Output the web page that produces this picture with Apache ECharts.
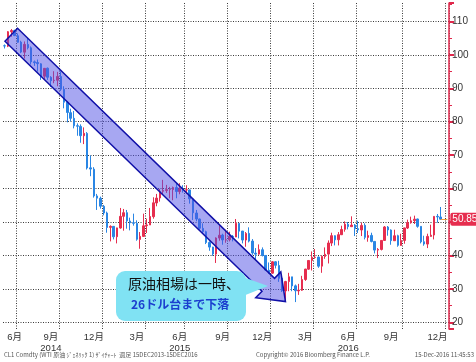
<!DOCTYPE html>
<html><head><meta charset="utf-8">
<script src="https://cdn.jsdelivr.net/npm/echarts@6/dist/echarts.min.js"></script>
<style>html,body{margin:0;padding:0;background:#fff}#c{width:476px;height:362px}</style>
</head><body><div id="c"></div>
<script>
// weekly categories (Monday of each week)
const weeks = [
'2014-06-02','2014-06-09','2014-06-16','2014-06-23','2014-06-30','2014-07-07','2014-07-14','2014-07-21','2014-07-28','2014-08-04',
'2014-08-11','2014-08-18','2014-08-25','2014-09-01','2014-09-08','2014-09-15','2014-09-22','2014-09-29','2014-10-06','2014-10-13',
'2014-10-20','2014-10-27','2014-11-03','2014-11-10','2014-11-17','2014-11-24','2014-12-01','2014-12-08','2014-12-15','2014-12-22',
'2014-12-29','2015-01-05','2015-01-12','2015-01-19','2015-01-26','2015-02-02','2015-02-09','2015-02-16','2015-02-23','2015-03-02',
'2015-03-09','2015-03-16','2015-03-23','2015-03-30','2015-04-06','2015-04-13','2015-04-20','2015-04-27','2015-05-04','2015-05-11',
'2015-05-18','2015-05-25','2015-06-01','2015-06-08','2015-06-15','2015-06-22','2015-06-29','2015-07-06','2015-07-13','2015-07-20',
'2015-07-27','2015-08-03','2015-08-10','2015-08-17','2015-08-24','2015-08-31','2015-09-07','2015-09-14','2015-09-21','2015-09-28',
'2015-10-05','2015-10-12','2015-10-19','2015-10-26','2015-11-02','2015-11-09','2015-11-16','2015-11-23','2015-11-30','2015-12-07',
'2015-12-14','2015-12-21','2015-12-28','2016-01-04','2016-01-11','2016-01-18','2016-01-25','2016-02-01','2016-02-08','2016-02-15',
'2016-02-22','2016-02-29','2016-03-07','2016-03-14','2016-03-21','2016-03-28','2016-04-04','2016-04-11','2016-04-18','2016-04-25',
'2016-05-02','2016-05-09','2016-05-16','2016-05-23','2016-05-30','2016-06-06','2016-06-13','2016-06-20','2016-06-27','2016-07-04',
'2016-07-11','2016-07-18','2016-07-25','2016-08-01','2016-08-08','2016-08-15','2016-08-22','2016-08-29','2016-09-05','2016-09-12',
'2016-09-19','2016-09-26','2016-10-03','2016-10-10','2016-10-17','2016-10-24','2016-10-31','2016-11-07','2016-11-14','2016-11-21',
'2016-11-28','2016-12-05','2016-12-12','2016-12-19','2016-12-26'
];

const openP = [
102.7,102.6,106.9,107.3,105.7,103.8,100.8,103.1,102.1,97.9,
97.7,97.3,93.6,96.0,93.3,92.3,92.4,93.5,89.7,85.8,
82.7,81.0,78.8,78.6,75.8,76.5,66.2,65.8,57.8,57.1,
54.7,52.7,48.4,48.7,45.6,48.2,51.7,52.8,50.3,49.8,
49.6,44.8,45.7,48.9,49.1,51.6,55.7,57.2,59.2,59.4,
59.7,59.7,60.3,59.1,60.0,59.6,59.6,56.9,52.7,50.9,
48.1,47.1,43.9,42.5,40.4,45.2,46.1,44.6,44.7,45.7,
45.5,49.6,47.3,44.6,46.6,44.3,40.7,40.4,41.7,40.0,
35.6,34.7,38.1,37.0,33.2,29.4,32.2,33.6,30.9,29.4,
29.6,32.8,35.9,38.5,39.4,39.5,36.8,39.7,40.4,43.7,
45.9,44.7,46.2,47.8,49.3,48.6,49.1,48.0,47.6,49.0,
45.4,46.0,44.2,41.6,41.8,44.5,48.5,47.6,44.4,45.9,
43.0,44.5,48.2,49.8,50.4,50.9,48.7,44.1,43.4,45.7,
46.1,51.7,51.5
];
const closeP = [
102.66,106.91,107.26,105.74,103.77,100.83,103.13,102.09,97.88,97.65,
97.35,93.65,95.96,93.29,92.27,92.41,93.54,89.74,85.82,82.75,
81.01,78.77,78.65,75.82,76.51,66.15,65.84,57.81,57.13,54.73,
52.69,48.36,48.69,45.59,48.24,51.69,52.78,50.34,49.76,49.61,
44.84,45.72,48.87,49.14,51.64,55.74,57.15,59.15,59.39,59.69,
59.72,60.30,59.13,59.96,59.61,59.63,56.93,52.74,50.89,48.14,
47.12,43.87,42.50,40.45,45.22,46.05,44.63,44.68,45.70,45.54,
49.63,47.26,44.60,46.59,44.29,40.74,40.39,41.71,39.97,35.62,
34.73,38.10,37.04,33.16,29.42,32.19,33.62,30.89,29.44,29.64,
32.78,35.92,38.50,39.44,39.46,36.79,39.72,40.36,43.73,45.92,
44.66,46.21,47.75,49.33,48.62,49.07,47.98,47.64,48.99,45.41,
45.95,44.19,41.60,41.80,44.49,48.52,47.64,44.44,45.88,43.03,
44.48,48.24,49.81,50.35,50.85,48.70,44.07,43.41,45.69,46.06,
51.68,51.50,50.85
];
const lowP = [
101.9,102.3,105.4,105.6,103.6,100.5,98.9,101.6,97.1,96.7,
95.0,92.5,92.5,92.5,90.4,91.5,90.6,89.2,84.0,79.8,
80.1,78.0,75.8,73.7,73.3,65.7,63.7,57.3,53.6,54.0,
52.0,46.8,44.2,44.8,43.6,48.0,47.4,48.0,47.5,48.9,
44.4,42.0,45.6,46.7,49.1,51.0,54.7,56.1,58.3,58.7,
57.1,56.5,57.1,58.3,58.8,58.4,55.5,50.6,50.2,47.7,
46.7,43.4,41.4,39.9,37.75,44.4,43.2,43.8,44.2,44.2,
45.5,45.1,43.6,42.6,43.9,40.2,38.9,40.2,39.7,35.4,
34.5,34.5,36.1,32.1,29.1,26.2,29.3,29.3,26.05,28.2,
29.4,32.4,35.7,35.5,39.0,36.3,34.8,39.0,37.6,42.8,
43.0,43.0,46.1,47.1,47.8,48.5,45.8,46.7,45.8,44.8,
44.1,43.9,40.6,39.2,41.5,44.4,45.9,43.2,44.4,42.6,
42.9,43.5,47.9,49.5,49.4,48.3,43.6,42.9,42.2,45.6,
44.8,49.8,50.7
];
const highP = [
103.1,107.1,107.7,107.5,106.4,104.2,104.0,105.0,102.5,98.3,
98.6,97.5,96.0,96.2,93.6,95.1,94.9,95.0,90.6,86.2,
83.9,83.2,79.5,79.2,78.3,76.9,69.9,66.4,58.4,57.6,
55.1,53.1,49.0,48.8,48.3,54.2,53.9,53.6,51.3,52.5,
50.5,47.0,52.5,51.0,54.2,57.4,58.4,59.9,62.6,61.1,
60.5,60.6,61.6,61.6,61.0,61.0,59.7,57.0,53.6,51.0,
49.6,47.4,44.2,42.6,45.4,49.3,46.5,47.7,47.1,46.1,
50.9,49.6,47.3,47.0,48.4,44.9,42.2,43.3,42.4,40.1,
37.9,38.3,38.3,38.4,33.2,32.4,34.8,33.6,31.3,31.5,
33.9,36.0,38.6,41.2,41.9,39.7,40.0,42.4,44.5,46.8,
46.0,47.0,48.9,50.2,50.0,51.7,49.4,50.4,49.8,49.6,
47.4,46.8,44.2,42.2,44.6,48.8,48.8,47.8,47.7,46.2,
46.5,48.3,50.7,51.6,51.9,51.0,48.7,45.9,46.5,49.2,
51.7,52.4,54.5
];

// axis label weeks / texts and quarter grid weeks
const tickWeeks  = ['2014-06-23','2014-09-08','2014-12-08','2015-03-09','2015-06-08','2015-09-07','2015-11-30','2016-02-29','2016-05-30','2016-08-29','2016-12-05'];
const tickLabels = ['6月','9月\n2014','12月','3月','6月\n2015','9月','12月','3月','6月\n2016','9月','12月'];
const gridWeeks  = ['2014-06-30','2014-09-29','2014-12-29','2015-03-30','2015-06-22','2015-09-21','2015-12-21','2016-03-21','2016-06-20','2016-09-26','2016-12-26'];

const arrowFrom = ['2014-06-16', 106];
const arrowTo   = ['2016-01-18', 26.2];

const lastPrice = closeP[closeP.length - 1];
const lastWeek = weeks[closeP.length - 1];

const labelMap = {};
tickWeeks.forEach((w, i) => { labelMap[weeks.indexOf(w)] = tickLabels[i]; });
const gridSet = new Set(gridWeeks.map(w => weeks.indexOf(w)));

const candles = openP.map((o, i) => [o, closeP[i], lowP[i], highP[i]]);

const UP = '#e62e4f', DOWN = '#2a86e4', AXRED = '#e0284c';
const dotted = { color: '#3a3a3a', width: 1, type: [1, 1.5] };

const chart = echarts.init(document.getElementById('c'), null, { renderer: 'canvas' });
chart.setOption({
  animation: false,
  backgroundColor: '#fff',
  grid: { left: 3, right: 27, top: 3, bottom: 33, containLabel: false },
  xAxis: {
    type: 'category', data: weeks, boundaryGap: true,
    axisLine: { show: false }, axisTick: { show: false },
    axisLabel: {
      interval: (idx) => labelMap[idx] !== undefined,
      formatter: (v, idx) => labelMap[idx] || '',
      color: '#333', fontSize: 9.5, lineHeight: 11, margin: 3,
      fontFamily: 'Liberation Sans, Noto Sans CJK JP, sans-serif'
    },
    splitLine: { show: true, interval: (idx) => gridSet.has(idx), lineStyle: dotted }
  },
  yAxis: {
    type: 'value', position: 'right', min: 18, max: 115.5, splitNumber: 10, scale: true,
    axisLine: { show: true, lineStyle: { color: AXRED, width: 1.5 } },
    axisTick: { show: true, length: 5, lineStyle: { color: AXRED, width: 2 } },
    minorTick: { show: true, splitNumber: 2, length: 3, lineStyle: { color: AXRED, width: 1 } },
    axisLabel: { color: '#333', fontSize: 10, margin: 3, showMinLabel: false, showMaxLabel: false,
      fontFamily: 'Liberation Sans, sans-serif' },
    splitLine: { show: true, showMinLine: false, showMaxLine: false, lineStyle: dotted }
  },
  series: [{
    type: 'candlestick', data: candles, barWidth: 2,
    itemStyle: { color: UP, color0: DOWN, borderColor: UP, borderColor0: DOWN, borderWidth: 1 },
    markLine: {
      silent: true, symbol: ['none', 'none'],
      lineStyle: { color: '#f0a040', width: 1, type: 'solid' },
      label: { show: true, position: 'end', distance: 3, formatter: String(lastPrice.toFixed(2)),
        color: '#fff', backgroundColor: '#e62e4f', padding: [2, 2, 1, 2], borderRadius: 2,
        fontSize: 10, fontFamily: 'Liberation Sans, sans-serif' },
      data: [[{ coord: [lastWeek, lastPrice] }, { coord: [weeks[weeks.length - 1], lastPrice] }]]
    }
  }]
});

// arrow annotation anchored to data points
const S = chart.convertToPixel({ seriesIndex: 0 }, arrowFrom);
const T = chart.convertToPixel({ seriesIndex: 0 }, arrowTo);
const dx = T[0] - S[0], dy = T[1] - S[1], L = Math.hypot(dx, dy);
const ux = dx / L, uy = dy / L, nx = -uy, ny = ux;
const hw = 9, hh = 18, hl = 24;
const B = [T[0] - ux * hl, T[1] - uy * hl];
const pts = [
  [S[0] + nx * hw, S[1] + ny * hw], [B[0] + nx * hw, B[1] + ny * hw], [B[0] + nx * hh, B[1] + ny * hh],
  [T[0], T[1]],
  [B[0] - nx * hh, B[1] - ny * hh], [B[0] - nx * hw, B[1] - ny * hw], [S[0] - nx * hw, S[1] - ny * hw]
];

const tiny = { fontSize: 6, fill: '#555', fontFamily: 'Noto Sans CJK JP, sans-serif' };
chart.setOption({
  graphic: [
    { type: 'polygon', shape: { points: pts }, style: { fill: 'rgba(80,80,230,0.5)', stroke: '#1010a8', lineWidth: 1.5 }, z: 10 },
    { type: 'rect', shape: { x: 116, y: 271, width: 130, height: 50, r: 9 }, style: { fill: '#80e2f3' }, z: 11 },
    { type: 'polygon', shape: { points: [[243, 277], [268, 286], [243, 296]] }, style: { fill: '#80e2f3' }, z: 11 },
    { type: 'text', x: 128, y: 284, z: 12, style: { text: '原油相場は一時、', fontSize: 14, fill: '#111',
        fontFamily: 'Noto Sans CJK JP', verticalAlign: 'middle' } },
    { type: 'text', x: 131, y: 304, z: 12, style: { text: '26ドル台まで下落', fontSize: 12, fontWeight: 'bold', fill: '#1b3fcf',
        fontFamily: 'Noto Sans CJK JP', verticalAlign: 'middle' } },
    { type: 'text', x: 4, y: 355, z: 12, style: Object.assign({ text: 'CL1 Comdty (WTI 原油 ｼﾞｪﾈﾘｯｸ 1) ｻﾞｲﾁｬｰﾄ  週足 15DEC2013-15DEC2016', verticalAlign: 'middle' }, tiny) },
    { type: 'text', x: 256, y: 355, z: 12, style: Object.assign({ text: 'Copyright© 2016 Bloomberg Finance L.P.', verticalAlign: 'middle' }, tiny) },
    { type: 'text', x: 474, y: 355, z: 12, style: Object.assign({ text: '15-Dec-2016 11:45:53', align: 'right', verticalAlign: 'middle' }, tiny) }
  ]
});
</script>
</body></html>
